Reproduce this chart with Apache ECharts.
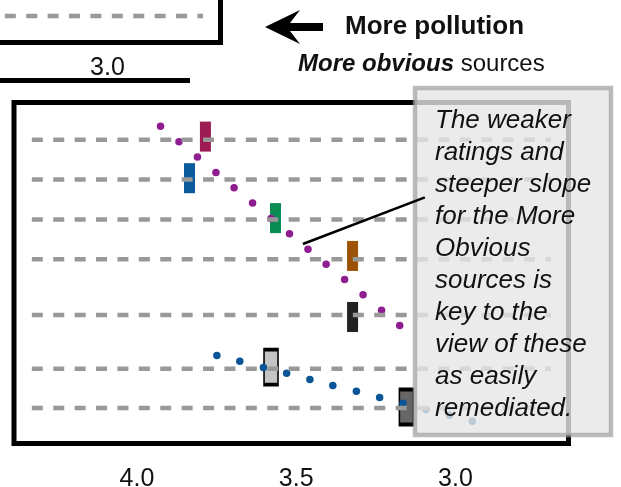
<!DOCTYPE html>
<html>
<head>
<meta charset="utf-8">
<script src="https://cdn.jsdelivr.net/npm/echarts@6/dist/echarts.min.js"></script>
<style>
    html, body { margin: 0; padding: 0; background: #fff; }
    #main { width: 621px; height: 487px; }
</style>
</head>
<body>
<div id="main"></div>
<script>
// ratings run from high (left) to low (right); y is the row height in the panel
var tickValues = [4.0, 3.5, 3.0];
var rowY = [8.91, 7.74, 6.57, 5.40, 3.77, 2.19, 1.04];
var upperRowY = [0.78];
var guideFrom = 4.33;
var guideTo = 2.70;

var boxX = [3.785, 3.835, 3.565, 3.323, 3.323, 3.579, 3.154];
var boxY = [9.00, 7.78, 6.61, 5.50, 3.71, 2.24, 1.07];
var boxColors = ['#9b1b52', '#0b5a9c', '#0a8c55', '#9c5306', '#222222', '#c4c4c4', '#666666'];

var purpleX = [3.926, 3.868, 3.810, 3.752, 3.695, 3.637, 3.579, 3.521, 3.463, 3.406, 3.348, 3.290, 3.232, 3.175];
var purpleY = [9.30, 8.85, 8.40, 7.95, 7.50, 7.05, 6.60, 6.15, 5.70, 5.26, 4.81, 4.36, 3.91, 3.46];
var blueX = [3.749, 3.677, 3.603, 3.530, 3.457, 3.385, 3.311, 3.238, 3.165, 3.093, 3.019, 2.947];
var blueY = [2.58, 2.41, 2.23, 2.06, 1.88, 1.70, 1.53, 1.35, 1.18, 1.00, 0.83, 0.65];

var leaderX = [3.479, 3.096];
var leaderY = [5.85, 7.22];

var noteLines = ['The weaker', 'ratings and', 'steeper slope', 'for the More', 'Obvious',
    'sources is', 'key to the', 'view of these', 'as easily', 'remediated.'];

var FONT = '"Liberation Sans", Arial, Helvetica, sans-serif';

function zip(xs, ys) {
    var out = [];
    for (var i = 0; i < xs.length; i++) {
        out.push([xs[i], ys[i]]);
    }
    return out;
}

function makeXAxis(idx, margin) {
    return {
        type: 'value', gridIndex: idx, inverse: true, min: 2.645, max: 4.386,
        axisLine: { show: false }, axisTick: { show: false }, splitLine: { show: false },
        axisLabel: {
            customValues: tickValues, margin: margin, fontSize: 25, color: '#111', fontFamily: FONT,
            formatter: function (v) { return v.toFixed(1); }
        }
    };
}

function makeYAxis(idx) {
    return { type: 'value', gridIndex: idx, min: 0, max: 10, show: false };
}

function guideSeries(y, idx) {
    return {
        type: 'line', xAxisIndex: idx, yAxisIndex: idx, z: 4, silent: true,
        symbol: 'none', data: [[guideFrom, y], [guideTo, y]],
        lineStyle: { color: '#999', width: 4.5, type: [11, 10.4] }
    };
}

var series = [];
rowY.forEach(function (y) { series.push(guideSeries(y, 0)); });
upperRowY.forEach(function (y) { series.push(guideSeries(y, 1)); });

var boxData = [];
for (var k = 0; k < boxX.length; k++) {
    var outlined = k >= 5;
    boxData.push({
        value: [boxX[k], boxY[k]],
        symbolSize: outlined ? [14, 35] : [11, 30],
        itemStyle: {
            color: boxColors[k],
            opacity: 1,
            borderColor: outlined ? '#000' : boxColors[k],
            borderWidth: outlined ? 2.5 : 0
        }
    });
}

series.push({ type: 'scatter', symbol: 'rect', z: 2, silent: true, data: boxData });
series.push({
    type: 'scatter', symbol: 'circle', symbolSize: 7.5, z: 3, silent: true,
    itemStyle: { color: '#8e1e8f', opacity: 1 }, data: zip(purpleX, purpleY)
});
series.push({
    type: 'scatter', symbol: 'circle', symbolSize: 7.5, z: 3, silent: true,
    itemStyle: { color: '#0a5597', opacity: 1 }, data: zip(blueX, blueY)
});
series.push({
    type: 'line', symbol: 'none', z: 60, silent: true,
    lineStyle: { color: '#000', width: 2.5 }, data: zip(leaderX, leaderY)
});

var chart = echarts.init(document.getElementById('main'));

var option = {
    animation: false,
    grid: [
        {
            left: 14, top: 102.5, width: 554.5, height: 341, outerBoundsMode: 'none', containLabel: false,
            show: true, borderColor: '#000', borderWidth: 5, backgroundColor: 'transparent'
        },
        {
            left: -334, top: -298.5, width: 554.5, height: 341, outerBoundsMode: 'none', containLabel: false,
            show: true, borderColor: '#000', borderWidth: 5, backgroundColor: 'transparent'
        }
    ],
    xAxis: [makeXAxis(0, 23), makeXAxis(1, 13)],
    yAxis: [makeYAxis(0), makeYAxis(1)],
    series: series,
    graphic: [
        {
            type: 'polygon', z: 10,
            shape: { points: [[265, 27], [300, 10], [290, 23], [323, 23], [323, 31], [290, 31], [300, 44]] },
            style: { fill: '#000' }
        },
        {
            type: 'text', x: 345, y: 27, z: 10,
            style: { text: 'More pollution', fontSize: 26, fontWeight: 'bold', fontFamily: FONT, fill: '#111', verticalAlign: 'middle' }
        },
        {
            type: 'text', x: 298, y: 64, z: 10,
            style: {
                text: '{b|More obvious} {n|sources}', verticalAlign: 'middle', fill: '#111',
                fontSize: 24, fontFamily: FONT,
                rich: {
                    b: { fontSize: 24, fontWeight: 'bold', fontStyle: 'italic', fontFamily: FONT, fill: '#111' },
                    n: { fontSize: 24, fontFamily: FONT, fill: '#111' }
                }
            }
        },
        {
            type: 'line', z: 10,
            shape: { x1: 0, y1: 80.5, x2: 190, y2: 80.5 },
            style: { stroke: '#000', lineWidth: 5 }
        },
        {
            type: 'rect', z: 50,
            shape: { x: 415, y: 88, width: 196, height: 347 },
            style: { fill: 'rgba(230,230,230,0.8)', stroke: 'rgba(160,160,160,0.7)', lineWidth: 4.5 }
        },
        {
            type: 'text', x: 435, y: 105, z: 51,
            style: { text: noteLines.join('\n'), fontSize: 26, fontStyle: 'italic', fontFamily: FONT, lineHeight: 32, fill: '#111' }
        }
    ]
};

chart.setOption(option);
</script>
</body>
</html>
